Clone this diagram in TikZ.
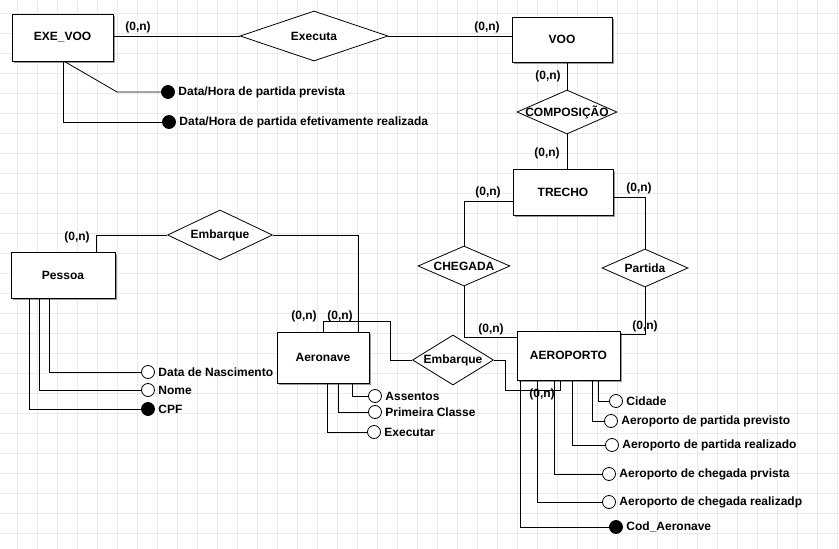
\documentclass[tikz,border=0pt]{standalone}
\usepackage{fontspec}
\setmainfont{Liberation Sans}
\usepackage{tikz}
\usetikzlibrary{calc,shapes.geometric,shadows}
\definecolor{gridgray}{HTML}{EBEBEB}
\definecolor{shadowgray}{HTML}{9A9A9A}
\newcommand{\rotfont}{\fontsize{12}{14}\selectfont\bfseries}
\tikzset{
  every node/.style={font=\rotfont},
  entidade/.style={draw, line width=1pt, fill=white, inner sep=0pt,
    drop shadow={shadow xshift=2pt, shadow yshift=-2pt, fill=shadowgray, opacity=1}},
  relacao/.style={draw, diamond, line width=0.8pt, fill=white, inner sep=0pt, label=center:{#1}},
  ligacao/.style={line width=0.8pt},
  atributo/.style={circle, draw, line width=0.8pt, fill=white, minimum size=13pt, inner sep=0pt, label=right:{#1}},
  chave/.style={atributo={#1}, fill=black},
  card/.style={inner sep=0pt},
  gridline/.style={gridgray, line width=0.5pt}
}

\begin{document}
\begin{tikzpicture}[x=1pt, y=-1pt]
    \useasboundingbox (0,0) rectangle (839,549);

    % Grid
    \fill[white] (0,0) rectangle (839,549);
    \foreach \gx in {17,37,...,837} {
        \draw[gridline] (\gx,0) -- (\gx,549);
    }
    \foreach \gy in {13,33,...,549} {
        \draw[gridline] (0,\gy) -- (839,\gy);
    }

    % Entities
    \node[entidade, minimum width=101pt, minimum height=47pt] (exevoo) at (62.5,37.5) {EXE\_VOO};
    \node[entidade, minimum width=100pt, minimum height=45pt] (voo) at (562,39.5) {VOO};
    \node[entidade, minimum width=100pt, minimum height=46pt] (trecho) at (563,192) {TRECHO};
    \node[entidade, minimum width=104pt, minimum height=46pt] (pessoa) at (63,275) {Pessoa};
    \node[entidade, minimum width=92pt, minimum height=51pt] (aeronave) at (323,357.5) {Aeronave};
    \node[entidade, minimum width=103pt, minimum height=49pt] (aeroporto) at (568.5,355.5) {AEROPORTO};

    % Relationships
    \node[relacao=Executa, minimum width=148pt, minimum height=50pt] (executa) at (314,36) {};
    \node[relacao=COMPOSIÇÃO, minimum width=100pt, minimum height=44pt] (composicao) at (567,112) {};
    \node[relacao=CHEGADA, minimum width=92pt, minimum height=40pt] (chegada) at (464,266) {};
    \node[relacao=Partida, minimum width=86pt, minimum height=38pt] (partida) at (645,268) {};
    \node[relacao=Embarque, minimum width=105pt, minimum height=50pt] (emb1) at (220,235) {};
    \node[relacao=Embarque, minimum width=81pt, minimum height=50pt] (emb2) at (453,360) {};

    % Connections
    \draw[ligacao] (exevoo.east |- executa.west) -- (executa.west);
    \draw[ligacao] (executa.east) -- (executa.east -| voo.west);
    \draw[ligacao] (composicao.north) -- (composicao.north |- voo.south);
    \draw[ligacao] (composicao.south) -- (composicao.south |- trecho.north);
    \draw[ligacao] ($(trecho.west)+(0,9)$) -| (chegada.north);
    \draw[ligacao] (chegada.south) |- ($(aeroporto.north west)+(0,7)$);
    \draw[ligacao] ($(trecho.east)+(0,5)$) -| (partida.north);
    \draw[ligacao] (partida.south) |- ($(aeroporto.north east)+(0,4)$);
    \draw[ligacao] ($(pessoa.north east)+(-19,0)$) |- (emb1.west);
    \draw[ligacao] (emb1.east) -| ($(aeronave.north east)+(-11,0)$);
    \draw[ligacao] (aeronave.north) -- ++(0,-10) -| ([xshift=-22pt]emb2.west) -- (emb2.west);
    \draw[ligacao] (emb2.east) -- ++(11,0) -- ++(0,30) -| ([xshift=-8pt]aeroporto.south);

    % Cardinalities
    \node[card] (cexe) at (138,27) {(0,n)};
    \node[card] (cvoo1) at (487,27) {(0,n)};
    \node[card] (cvoo2) at (548,76) {(0,n)};
    \node[card] (ctrecho1) at (547,153) {(0,n)};
    \node[card] (ctrecho2) at (488,192) {(0,n)};
    \node[card] (ctrecho3) at (639,188) {(0,n)};
    \node[card] (caer1) at (491,329) {(0,n)};
    \node[card] (caer2) at (645,326) {(0,n)};
    \node[card] (cpessoa) at (77,237) {(0,n)};
    \node[card] (cnave1) at (304,316) {(0,n)};
    \node[card] (cnave2) at (340,316) {(0,n)};
    \node[card] (caer3) at (542,394) {(0,n)};

    % Attributes of EXE_VOO
    \node[chave={Data/Hora de partida prevista}] (dhprev) at (168,92) {};
    \node[chave={Data/Hora de partida efetivamente realizada}] (dhreal) at (169,122) {};
    \draw[ligacao] ($(exevoo.south west)+(53,0)$) -- ($(dhprev.west)+(-44,0)$) -- (dhprev.west);
    \draw[ligacao] ($(exevoo.south west)+(52,0)$) |- (dhreal.west);

    % Attributes of Pessoa
    \node[atributo={Data de Nascimento}] (nasc) at (148,372) {};
    \node[atributo=Nome] (nome) at (148,390) {};
    \node[chave=CPF] (cpf) at (148,409) {};
    \draw[ligacao] ($(pessoa.south west)+(39,0)$) |- (nasc.west);
    \draw[ligacao] ($(pessoa.south west)+(29,0)$) |- (nome.west);
    \draw[ligacao] ($(pessoa.south west)+(19,0)$) |- (cpf.west);

    % Attributes of Aeronave
    \node[atributo=Assentos] (assentos) at (375,396) {};
    \node[atributo={Primeira Classe}] (primeira) at (375,412) {};
    \node[atributo=Executar] (executar) at (374,432) {};
    \draw[ligacao] ($(aeronave.south west)+(76,0)$) |- (assentos.west);
    \draw[ligacao] ($(aeronave.south west)+(62,0)$) |- (primeira.west);
    \draw[ligacao] ($(aeronave.south west)+(51,0)$) |- (executar.west);

    % Attributes of AEROPORTO
    \node[atributo=Cidade] (cidade) at (616,401) {};
    \node[atributo={Aeroporto de partida previsto}] (ppart) at (611,421) {};
    \node[atributo={Aeroporto de partida realizado}] (rpart) at (612,445) {};
    \node[atributo={Aeroporto de chegada prvista}] (pcheg) at (609,474) {};
    \node[atributo={Aeroporto de chegada realizadp}] (rcheg) at (609,502) {};
    \node[chave=Cod\_Aeronave] (codaer) at (616,527) {};
    \draw[ligacao] ($(aeroporto.south west)+(82,0)$) |- (cidade.west);
    \draw[ligacao] ($(aeroporto.south west)+(76,0)$) |- (ppart.west);
    \draw[ligacao] ($(aeroporto.south west)+(56,0)$) |- (rpart.west);
    \draw[ligacao] ($(aeroporto.south west)+(38,0)$) |- (pcheg.west);
    \draw[ligacao] ($(aeroporto.south west)+(21,0)$) |- (rcheg.west);
    \draw[ligacao] ($(aeroporto.south west)+(4,0)$) |- (codaer.west);

\end{tikzpicture}
\end{document}
